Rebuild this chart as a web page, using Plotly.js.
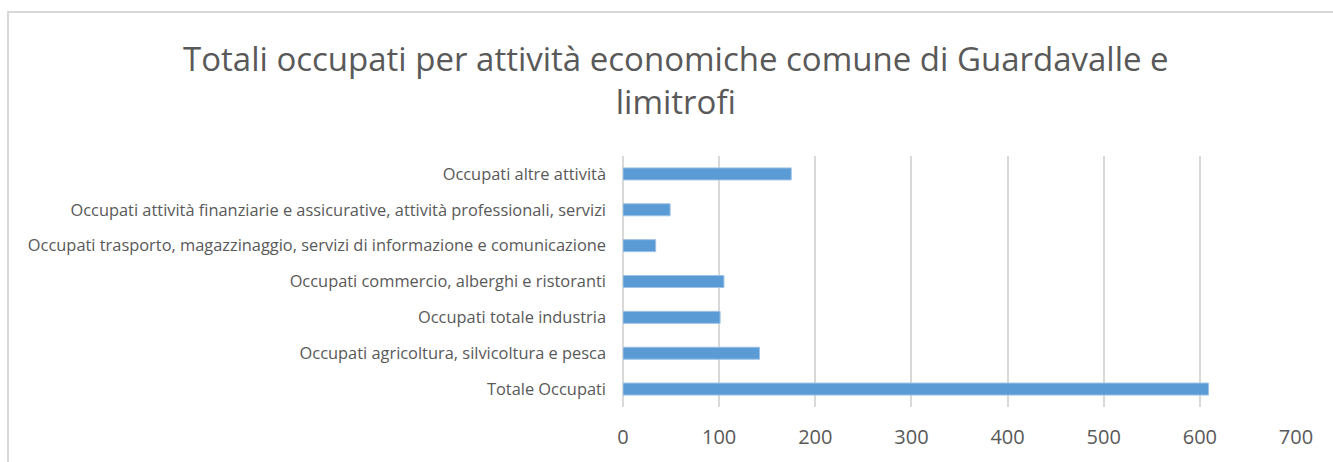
<!DOCTYPE html>
<html>
<head>
<meta charset="utf-8">
<script src="https://cdn.plot.ly/plotly-3.0.1.min.js"></script>
<style>
  html, body { margin: 0; padding: 0; background: #fff; overflow: hidden; }
  #frame { position: absolute; left: 7px; top: 11px; width: 1400px; height: 600px;
           border-top: 2px solid #d9d9d9; border-left: 2px solid #d9d9d9; }
  #chart { position: absolute; left: 0; top: 0; width: 1333px; height: 462px; }
</style>
</head>
<body>
<div id="frame"></div>
<div id="chart"></div>
<script>
const categories = [
  "Totale Occupati",
  "Occupati agricoltura, silvicoltura e pesca",
  "Occupati totale industria",
  "Occupati commercio, alberghi e ristoranti",
  "Occupati trasporto, magazzinaggio, servizi di informazione e comunicazione",
  "Occupati attività finanziarie e assicurative, attività professionali, servizi",
  "Occupati altre attività"
];
const values = [609, 142, 101, 105, 34, 49, 175];
const tickValues = [0, 100, 200, 300, 400, 500, 600, 700];

const trace = {
  type: 'bar',
  orientation: 'h',
  y: categories,
  x: values,
  marker: { color: '#5b9bd5', line: { color: '#9dc3e6', width: 1 } },
  hoverinfo: 'x+y'
};

const layout = {
  width: 1333, height: 462,
  paper_bgcolor: 'rgba(0,0,0,0)',
  plot_bgcolor: 'rgba(0,0,0,0)',
  margin: { l: 623, r: 37, t: 156, b: 55 },
  bargap: 0.665,
  showlegend: false,
  font: { family: 'Open Sans, sans-serif', color: '#595959' },
  title: {
    text: 'Totali occupati per attività economiche comune di Guardavalle e<br>limitrofi',
    font: { family: 'Open Sans, sans-serif', size: 33, color: '#595959' },
    x: 0.507, xanchor: 'center',
    y: 0.8465, yanchor: 'top', yref: 'container'
  },
  xaxis: {
    range: [0, 700],
    tickvals: tickValues,
    ticktext: tickValues.map(String),
    showgrid: true, gridcolor: '#d9d9d9', gridwidth: 2,
    zeroline: true, zerolinecolor: '#d9d9d9', zerolinewidth: 2,
    showline: false,
    ticks: '',
    ticklabelstandoff: 16,
    tickfont: { size: 20, color: '#595959' },
    fixedrange: true
  },
  yaxis: {
    type: 'category',
    categoryorder: 'array',
    categoryarray: categories,
    range: [-0.5, 6.5],
    showgrid: false, zeroline: false, showline: false,
    ticks: '',
    ticklabelstandoff: 16,
    tickfont: { size: 16.4, color: '#595959' },
    fixedrange: true
  }
};

Plotly.newPlot('chart', [trace], layout, { displayModeBar: false, staticPlot: true });
</script>
</body>
</html>
